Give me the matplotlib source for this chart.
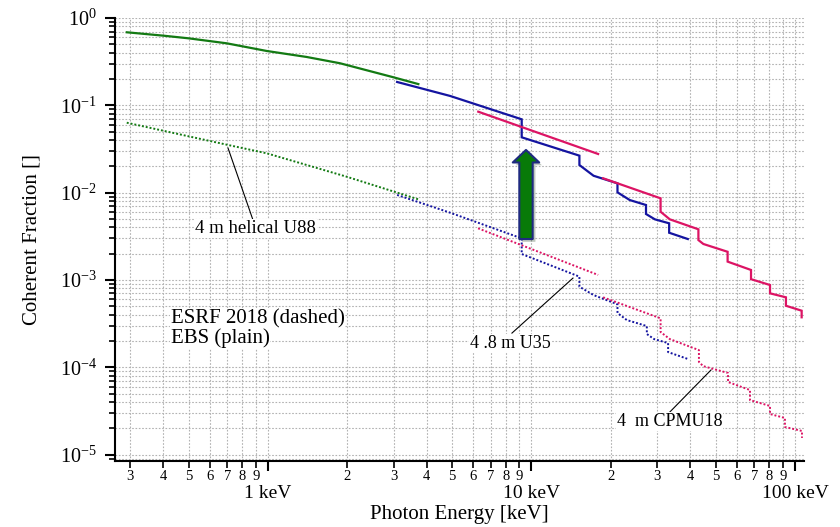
import numpy as np
import matplotlib
matplotlib.use("Agg")
import matplotlib.pyplot as plt
from matplotlib.ticker import LogLocator, NullFormatter
from matplotlib.patches import FancyArrowPatch, ArrowStyle
import matplotlib.patheffects as pe

plt.rcParams['font.family'] = ['Liberation Serif', 'DejaVu Serif']
plt.rcParams['mathtext.default'] = 'regular'

# ---- data (photon energy in keV, coherent fraction) ----
# 4 m helical U88
u88_ebs_e = [0.291, 0.40, 0.50, 0.697, 0.989, 1.40, 1.877, 3.0, 3.72]
u88_ebs_f = [0.686, 0.628, 0.585, 0.513, 0.419, 0.358, 0.303, 0.209, 0.175]
u88_esrf_e = [0.291, 0.706, 0.989, 1.99, 3.72]
u88_esrf_f = [0.0632, 0.0351, 0.0282, 0.0152, 0.00838]

# 4.8 m U35
u35_ebs_e = [3.09, 4.91, 9.18, 9.18, 15.2, 15.2, 17.2, 21.2, 21.2, 23.6, 27.2, 27.2,
             29.4, 33.3, 33.3, 39.2]
u35_ebs_f = [0.185, 0.128, 0.0691, 0.043, 0.0265, 0.0207, 0.0156, 0.01277, 0.01007,
             0.00822, 0.00721, 0.00569, 0.00494, 0.00445, 0.00347, 0.00294]
u35_esrf_e = [3.09, 4.91, 9.18, 9.18, 15.2, 15.2, 17.2, 21.2, 21.2, 23.0, 27.4, 27.4,
              29.2, 33.0, 33.0, 39.3]
u35_esrf_f = [0.0094, 0.00589, 0.00299, 0.00198, 0.00109, 0.000836, 0.000671, 0.000525,
              0.000418, 0.000347, 0.000296, 0.00024, 0.00021, 0.000189, 0.000149, 0.000124]

# 4 m CPMU18 (first harmonic, then higher harmonics)
cpmu_ebs_e1 = [6.28, 17.9]
cpmu_ebs_f1 = [0.0845, 0.0277]
cpmu_ebs_e2 = [18.7, 30.9, 30.9, 33.5, 43.0, 43.0, 44.9, 55.5, 55.5, 68.1, 68.1, 80.4,
               80.4, 92.4, 92.4, 106.0, 106.0]
cpmu_ebs_f2 = [0.01459, 0.0086, 0.00604, 0.00494, 0.0038, 0.00286, 0.00258, 0.0021,
               0.00162, 0.0013, 0.00102, 0.000874, 0.000702, 0.000632, 0.000506,
               0.000444, 0.000373]
cpmu_esrf_e1 = [6.27, 17.9]
cpmu_esrf_f1 = [0.0039, 0.00114]
cpmu_esrf_e2 = [18.7, 30.9, 30.9, 33.5, 43.2, 43.2, 44.8, 55.7, 55.7, 67.5, 67.5, 80.4,
                80.4, 91.6, 91.6, 106.3, 106.3]
cpmu_esrf_f2 = [0.000632, 0.000363, 0.000253, 0.00021, 0.000157, 0.000115, 0.000103,
                8.59e-5, 6.77e-5, 5.48e-5, 4.2e-5, 3.6e-5, 2.91e-5, 2.62e-5, 2.07e-5,
                1.86e-5, 1.55e-5]

# arrow (gain EBS vs ESRF)
arrow_e = 9.53
arrow_f = [0.00294, 0.0308]

# ticks
x_major = [1, 10, 100]
x_major_labels = ['1 keV', '10 keV', '100 keV']
x_minor = [0.3, 0.4, 0.5, 0.6, 0.7, 0.8, 0.9,
           2, 3, 4, 5, 6, 7, 8, 9,
           20, 30, 40, 50, 60, 70, 80, 90]
x_minor_labels = ['3', '4', '5', '6', '7', '8', '9',
                  '2', '3', '4', '5', '6', '7', '8', '9',
                  '2', '3', '4', '5', '6', '7', '8', '9']
y_major = [1e0, 1e-1, 1e-2, 1e-3, 1e-4, 1e-5]
y_major_labels = ['$10^{0}$', '$10^{-1}$', '$10^{-2}$', '$10^{-3}$', '$10^{-4}$', '$10^{-5}$']

GREEN = '#137a13'
BLUE = '#1414a0'
RED = '#dc1464'

fig = plt.figure(figsize=(8.4, 5.27), dpi=100)
ax = fig.add_axes([115 / 840, 1 - 461 / 527, 689 / 840, 443 / 527])
ax.set_xscale('log')
ax.set_yscale('log')
ax.set_xlim(0.2626, 108.2)
ax.set_ylim(8.43e-6, 1.0)

solid = dict(lw=1.6, solid_joinstyle='miter')
dot = dict(lw=1.4, linestyle=(0, (1, 1)))

ax.plot(u88_ebs_e, u88_ebs_f, color=GREEN, **solid)
ax.plot(u88_esrf_e, u88_esrf_f, color=GREEN, **dot)
ax.plot(u35_ebs_e, u35_ebs_f, color=BLUE, **solid)
ax.plot(u35_esrf_e, u35_esrf_f, color=BLUE, **dot)
ax.plot(cpmu_ebs_e1, cpmu_ebs_f1, color=RED, **solid)
ax.plot(cpmu_ebs_e2, cpmu_ebs_f2, color=RED, **solid)
ax.plot(cpmu_esrf_e1, cpmu_esrf_f1, color=RED, **dot)
ax.plot(cpmu_esrf_e2, cpmu_esrf_f2, color=RED, **dot)

# big green arrow
arr = FancyArrowPatch((arrow_e, arrow_f[0]), (arrow_e, arrow_f[1]),
                      arrowstyle=ArrowStyle('Simple', head_length=9, head_width=19, tail_width=9.6),
                      mutation_scale=1, shrinkA=0, shrinkB=0,
                      facecolor='#087a08', edgecolor='#1f2a80', lw=1.5, zorder=5)
arr.set_path_effects([pe.SimplePatchShadow(offset=(2, -2), alpha=0.25), pe.Normal()])
ax.add_patch(arr)

# grid
ax.grid(which='both', color='#b2b2b2', linestyle=(0, (1.5, 1.5)), linewidth=0.8)
ax.set_axisbelow(True)

# spines
for s in ['top', 'right']:
    ax.spines[s].set_visible(False)
for s in ['left', 'bottom']:
    ax.spines[s].set_linewidth(1.5)

# ticks
ax.set_xticks(x_major, labels=x_major_labels)
ax.set_xticks(x_minor, labels=x_minor_labels, minor=True)
ax.set_yticks(y_major, labels=y_major_labels)
ax.yaxis.set_minor_locator(LogLocator(base=10, subs=np.arange(2, 10), numticks=20))
ax.yaxis.set_minor_formatter(NullFormatter())
ax.tick_params(axis='x', which='major', direction='out', length=7, width=1.5,
               labelsize=14, pad=10)
ax.tick_params(axis='x', which='minor', direction='out', length=5, width=1.2,
               labelsize=10.5, pad=1.5)
ax.tick_params(axis='y', which='major', direction='out', length=7, width=1.5,
               labelsize=14.5, pad=6)
ax.tick_params(axis='y', which='minor', direction='out', length=4, width=1.2)

ax.set_xlabel('Photon Energy [keV]', fontsize=15)
ax.xaxis.set_label_coords(0.5, -0.1)
ax.set_ylabel('Coherent Fraction []', fontsize=15)
ax.yaxis.set_label_coords(-0.106, 0.5)

# annotations
box = dict(facecolor='white', edgecolor='none', pad=0.5)
ax.text(0.428, 3.21e-4, 'ESRF 2018 (dashed)', fontsize=15, va='baseline', ha='left', bbox=box)
ax.text(0.428, 1.89e-4, 'EBS (plain)', fontsize=15, va='baseline', ha='left', bbox=box)

ax.text(0.528, 3.45e-3, '4 m helical U88', fontsize=13.5, va='baseline', ha='left', bbox=box)
ax.plot([0.877, 0.705], [0.00485, 0.0324], color='black', lw=0.8)

ax.text(5.84, 1.66e-4, '4 .8 m U35', fontsize=13, va='baseline', ha='left', bbox=box)
ax.plot([8.43, 14.37], [2.46e-4, 1.05e-3], color='black', lw=0.8)

ax.text(21.1, 2.12e-5, '4  m CPMU18', fontsize=13, va='baseline', ha='left', bbox=box)
ax.plot([33.5, 48.0], [3.07e-5, 9.29e-5], color='black', lw=0.8)

fig.savefig('out.png', dpi=100)
